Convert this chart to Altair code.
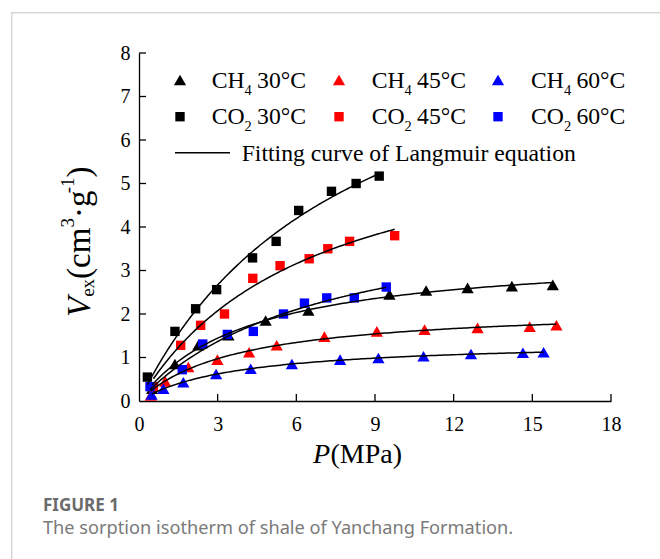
import altair as alt
import numpy as np
import pandas as pd

# ---- measured sorption data: pressure P (MPa), excess sorption V (cm3/g) ----
ch4_30_p = [0.50, 1.37, 2.26, 3.41, 4.83, 6.46, 9.55, 10.95, 12.53, 14.22, 15.78]
ch4_30_v = [0.28, 0.85, 1.28, 1.51, 1.85, 2.08, 2.45, 2.54, 2.60, 2.64, 2.67]

ch4_45_p = [0.45, 1.00, 1.88, 2.99, 4.20, 5.25, 7.07, 9.07, 10.89, 12.91, 14.90, 15.92]
ch4_45_v = [0.13, 0.45, 0.78, 0.95, 1.12, 1.28, 1.48, 1.60, 1.64, 1.68, 1.71, 1.74]

ch4_60_p = [0.48, 0.93, 1.69, 2.94, 4.26, 5.83, 7.67, 9.13, 10.85, 12.66, 14.64, 15.43]
ch4_60_v = [0.15, 0.28, 0.43, 0.62, 0.74, 0.85, 0.95, 0.99, 1.03, 1.08, 1.11, 1.12]

co2_30_p = [0.32, 1.37, 2.16, 2.96, 4.33, 5.23, 6.09, 7.34, 8.28, 9.16]
co2_30_v = [0.55, 1.60, 2.12, 2.56, 3.29, 3.67, 4.38, 4.82, 5.00, 5.17]

co2_45_p = [0.55, 1.59, 2.35, 3.26, 4.34, 5.38, 6.49, 7.20, 8.03, 9.75]
co2_45_v = [0.33, 1.28, 1.74, 2.00, 2.82, 3.11, 3.27, 3.50, 3.67, 3.80]

co2_60_p = [0.42, 1.65, 2.43, 3.37, 4.36, 5.51, 6.31, 7.16, 8.21, 9.43]
co2_60_v = [0.33, 0.72, 1.31, 1.53, 1.60, 2.00, 2.25, 2.37, 2.37, 2.62]

x_ticks = [0, 3, 6, 9, 12, 15, 18]
y_ticks = [0, 1, 2, 3, 4, 5, 6, 7, 8]

series = [
    # key, formula base, subscript, temperature, shape, colour, P, V
    ("CH4 30", "CH", "4", "30°C", "triangle-up", "#000000", ch4_30_p, ch4_30_v),
    ("CH4 45", "CH", "4", "45°C", "triangle-up", "#ff0000", ch4_45_p, ch4_45_v),
    ("CH4 60", "CH", "4", "60°C", "triangle-up", "#0000ff", ch4_60_p, ch4_60_v),
    ("CO2 30", "CO", "2", "30°C", "square", "#000000", co2_30_p, co2_30_v),
    ("CO2 45", "CO", "2", "45°C", "square", "#ff0000", co2_45_p, co2_45_v),
    ("CO2 60", "CO", "2", "60°C", "square", "#0000ff", co2_60_p, co2_60_v),
]


def langmuir_fit(p, v):
    """Least-squares Langmuir fit V = VL*P/(PL+P); returns (VL, PL)."""
    p = np.asarray(p, float)
    v = np.asarray(v, float)
    best = None
    for pl in np.linspace(0.2, 60.0, 6000):
        f = p / (pl + p)
        vl = (v * f).sum() / (f * f).sum()
        sse = ((v - vl * f) ** 2).sum()
        if best is None or sse < best[0]:
            best = (sse, vl, pl)
    return best[1], best[2]


point_rows, curve_rows = [], []
for key, base, sub, temp, shape, color, ps, vs in series:
    for p, v in zip(ps, vs):
        point_rows.append({"P": p, "V": v, "series": key, "shape": shape, "color": color})
    vl, pl = langmuir_fit(ps, vs)
    for p in np.linspace(min(ps), max(ps), 150):
        curve_rows.append({"P": float(p), "V": float(vl * p / (pl + p)), "series": key})

points = pd.DataFrame(point_rows)
curves = pd.DataFrame(curve_rows)

W, H = 472, 348
SERIF = "Liberation Serif"

axis_x = alt.Axis(values=x_ticks, title=None, grid=False, ticks=False, tickSize=0,
                  labelFont=SERIF, labelFontSize=20, labelColor="#000000",
                  labelPadding=13, labelFlush=False, domainColor="#000000", domainWidth=1.3)
axis_y = alt.Axis(values=y_ticks, title=None, grid=False, ticks=False, tickSize=0,
                  labelFont=SERIF, labelFontSize=20, labelColor="#000000",
                  labelPadding=9, labelFlush=False, domainColor="#000000", domainWidth=1.3)


def xenc(field):
    return alt.X(f"{field}:Q", scale=alt.Scale(domain=[0, 18], nice=False), axis=axis_x)


def yenc(field):
    return alt.Y(f"{field}:Q", scale=alt.Scale(domain=[0, 8], nice=False), axis=axis_y)


marker_size = alt.Size("shape:N", scale=alt.Scale(domain=["square", "triangle-up"], range=[88, 150]),
                       legend=None)

pts = alt.Chart(points).mark_point(filled=True, opacity=1, strokeWidth=0).encode(
    x=xenc("P"), y=yenc("V"),
    shape=alt.Shape("shape:N", scale=None),
    color=alt.Color("color:N", scale=None),
    size=marker_size,
)

lines = alt.Chart(curves).mark_line(color="#000000", strokeWidth=1.5).encode(
    x=xenc("P"), y=yenc("V"), detail="series:N",
)

# inward tick marks
xt = alt.Chart(pd.DataFrame({"t": x_ticks[1:]})).mark_rule(color="#000000", strokeWidth=1.3).encode(
    x=xenc("t"), y=alt.value(H), y2=alt.value(H - 7)
)
yt = alt.Chart(pd.DataFrame({"t": y_ticks[1:]})).mark_rule(color="#000000", strokeWidth=1.3).encode(
    y=yenc("t"), x=alt.value(0), x2=alt.value(7)
)

one = pd.DataFrame({"k": [0]})


def text(s, x, y, size, angle=0, style="normal", color="#000000", font=SERIF, weight="normal"):
    return alt.Chart(one).mark_text(
        text=s, align="left", baseline="alphabetic", fontSize=size, font=font,
        fontStyle=style, fontWeight=weight, angle=angle, color=color,
    ).encode(x=alt.value(x), y=alt.value(y))


layers = [pts, lines, xt, yt]

# ---- legend ----
LF, SF = 23.7, 14.5
col_marker_x = [41, 200, 359]
col_text_x = [72.7, 232.7, 392]
row_marker_y = [27, 63.7]
row_base_y = [35.3, 71]
leg_rows = []
for i, (key, base, sub, temp, shape, color, ps, vs) in enumerate(series):
    r, c = divmod(i, 3)
    leg_rows.append({"x": col_marker_x[c], "y": row_marker_y[r], "shape": shape, "color": color})
    tx = col_text_x[c]
    by = row_base_y[r]
    base_w = (0.667 + 0.722) * LF
    layers.append(text(base, tx, by, LF))
    layers.append(text(sub, tx + base_w, by + 6.5, SF))
    layers.append(text(temp, tx + base_w + 0.5 * SF + 0.22 * LF, by, LF))

leg = pd.DataFrame(leg_rows)
layers.append(
    alt.Chart(leg).mark_point(filled=True, opacity=1, strokeWidth=0).encode(
        x=alt.X("x:Q", scale=None), y=alt.Y("y:Q", scale=None),
        shape=alt.Shape("shape:N", scale=None), color=alt.Color("color:N", scale=None),
        size=alt.Size("shape:N", scale=alt.Scale(domain=["square", "triangle-up"], range=[88, 165]),
                      legend=None),
    )
)
layers.append(
    alt.Chart(one).mark_rule(color="#000000", strokeWidth=1.5).encode(
        x=alt.value(36), x2=alt.value(91), y=alt.value(99.7)
    )
)
layers.append(text("Fitting curve of Langmuir equation", 102.7, 107.7, LF))

# ---- axis titles ----
layers.append(text("P", 174, 410, 28, style="italic"))
layers.append(text("(MPa)", 191.5, 410, 28))

YF, YS = 33, 19
yb = -49          # baseline of the rotated title
ypos = 264        # start of the rotated title, reading upward
pieces = [
    ("V", YF, 0, "italic", 0.611),
    ("ex", YS, 4, "normal", 0.944),
    ("(cm", YF, 0, "normal", 1.555),
    ("3", YS, -16, "normal", 0.5),
    ("·g", YF, 0, "normal", 0.75),
    ("-1", YS, -16, "normal", 0.833),
    (")", YF, 0, "normal", 0.333),
]
for s, size, shift, style, w in pieces:
    layers.append(text(s, yb + shift, ypos, size, angle=270, style=style))
    ypos -= w * size

# ---- caption ----
layers.append(text("FIGURE 1", -96, 458, 17, color="#6b6b6b", font="Noto Sans", weight="bold"))
layers.append(text("The sorption isotherm of shale of Yanchang Formation.", -96, 480.5,
                   18.2, color="#7a7a7a", font="Noto Sans"))

# ---- panel frame ----
layers.append(
    alt.Chart(one).mark_rect(fill=None, stroke="#d6d6d6", strokeWidth=1.5).encode(
        x=alt.value(-127.3), x2=alt.value(560), y=alt.value(-40.3), y2=alt.value(560)
    )
)

chart = alt.layer(*layers).properties(
    width=W, height=H,
    autosize=alt.AutoSizeParams(type="none"),
    padding={"left": 139, "top": 53, "right": 49, "bottom": 158},
    background="#ffffff",
).configure_view(stroke=None)

chart.save("out.html", embed_options={"renderer": "svg", "actions": False})
